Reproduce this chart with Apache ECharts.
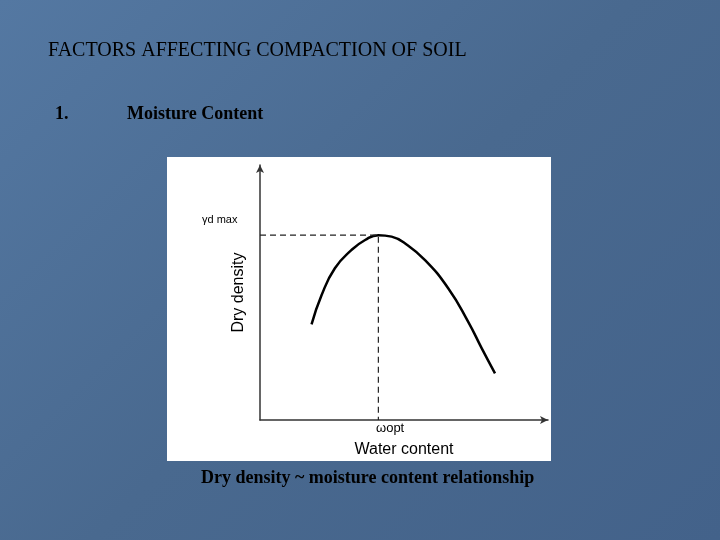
<!DOCTYPE html>
<html>
<head>
<meta charset="utf-8">
<script src="https://cdn.jsdelivr.net/npm/echarts@6/dist/echarts.min.js"></script>
<style>
  html, body { margin: 0; padding: 0; }
  #main { width: 720px; height: 540px; background: linear-gradient(135deg, #5478a2 0%, #49698f 50%, #43628a 100%); }
</style>
</head>
<body>
<div id="main"></div>
<script>
// compaction curve (water content %, dry density % of axis)
var waterContent = [17.9, 21.4, 26.0, 31.8, 36.5, 41.1, 45.7, 50.3, 57.3, 65.4, 72.3, 77.0, 81.6];
var dryDensity   = [37.5, 49.0, 59.5, 66.7, 70.6, 72.5, 71.9, 69.3, 62.7, 51.6, 38.5, 28.1, 18.3];
var optimum = [41.1, 72.5];

var chart = echarts.init(document.getElementById('main'));
chart.setOption({
    animation: false,
    graphic: [
        { type: 'rect', z: -10, shape: { x: 167, y: 157, width: 384, height: 304 }, style: { fill: '#ffffff' } },
        { type: 'text', left: 48, top: 41, style: { text: 'FACTORS AFFECTING COMPACTION OF SOIL', font: '20px "Liberation Serif"', fill: '#000' } },
        { type: 'text', left: 55, top: 105, style: { text: '1.', font: 'bold 18px "Liberation Serif"', fill: '#000' } },
        { type: 'text', left: 127, top: 105, style: { text: 'Moisture Content', font: 'bold 18px "Liberation Serif"', fill: '#000' } },
        { type: 'text', left: 201, top: 469, style: { text: 'Dry density ~ moisture content relationship', font: 'bold 18px "Liberation Serif"', fill: '#000' } },
        { type: 'text', left: 202, top: 214, style: { text: 'γd max', font: '11px "Liberation Sans"', fill: '#000' } },
        { type: 'text', left: 376, top: 422, style: { text: 'ωopt', font: '13px "Liberation Sans"', fill: '#000' } }
    ],
    grid: { left: 260, top: 165, width: 288, height: 255 },
    xAxis: {
        type: 'value', min: 0, max: 100,
        name: 'Water content', nameLocation: 'middle', nameGap: 22,
        nameTextStyle: { fontFamily: 'Liberation Sans', fontSize: 16, color: '#000' },
        axisLine: { lineStyle: { color: '#333', width: 1.5 }, symbol: ['none', 'arrow'], symbolSize: [6, 8] },
        axisTick: { show: false }, axisLabel: { show: false }, splitLine: { show: false }
    },
    yAxis: {
        type: 'value', min: 0, max: 100,
        name: 'Dry density', nameLocation: 'middle', nameGap: 13,
        nameTextStyle: { fontFamily: 'Liberation Sans', fontSize: 16, color: '#000' },
        axisLine: { show: true, lineStyle: { color: '#333', width: 1.5 }, symbol: ['none', 'arrow'], symbolSize: [6, 8] },
        axisTick: { show: false }, axisLabel: { show: false }, splitLine: { show: false }
    },
    series: [
        {
            type: 'line', smooth: true, showSymbol: false,
            data: waterContent.map(function (x, i) { return [x, dryDensity[i]]; }),
            lineStyle: { color: '#000', width: 2.5 }
        },
        {
            type: 'line', showSymbol: false,
            data: [[0, optimum[1]], optimum, [optimum[0], 0]],
            lineStyle: { color: '#222', width: 1.2, type: [6, 4] }
        }
    ]
});
</script>
</body>
</html>
